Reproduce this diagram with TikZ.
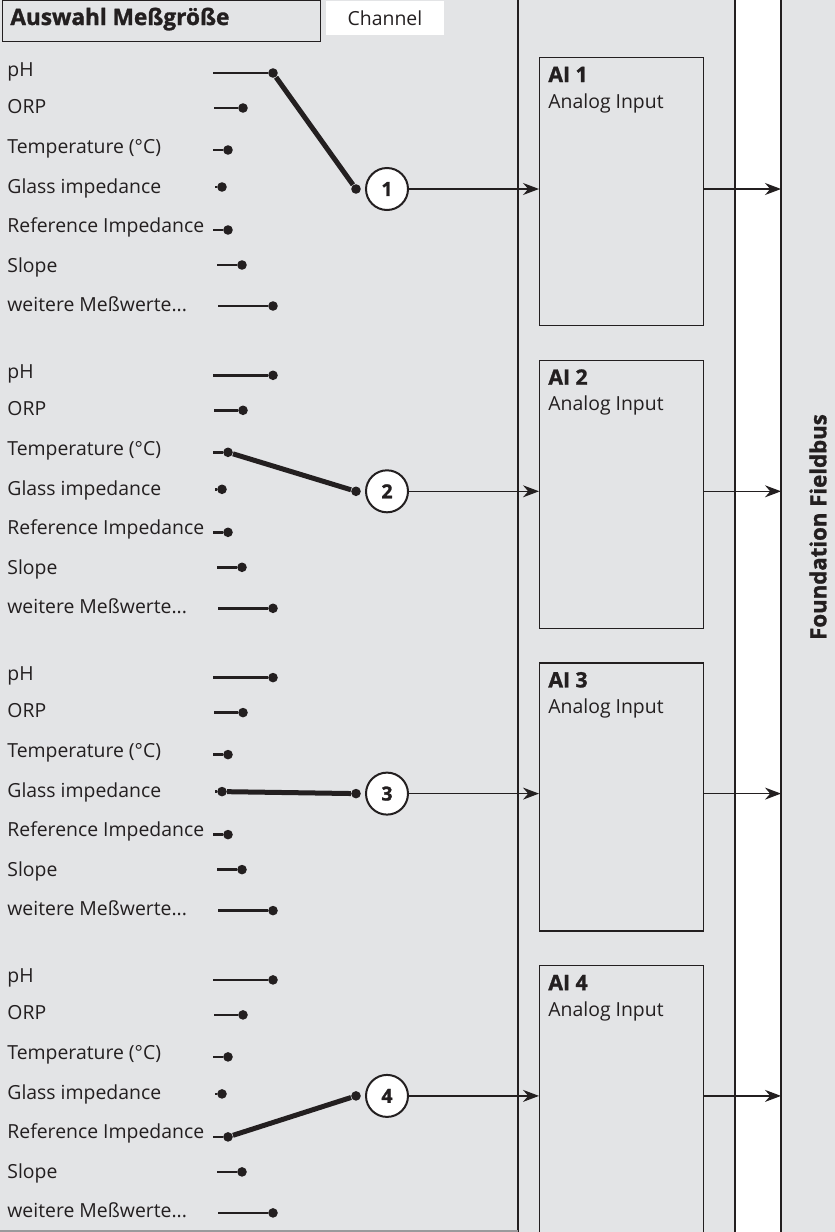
\documentclass[tikz,border=0pt]{standalone}
\usepackage{fontspec}
\setmainfont{Open Sans}
\newfontfamily\heavy{Open Sans}[BoldFeatures={FakeBold=1.3}]
\usetikzlibrary{arrows.meta,positioning}
\definecolor{panelgrey}{HTML}{E3E4E6}
\definecolor{ink}{HTML}{231F20}
\definecolor{rim}{HTML}{9A9A9C}

\begin{document}
\begin{tikzpicture}[x=0.5pt,y=-0.5pt,>={Stealth[length=8pt,width=6pt]},
  txt/.style={anchor=base west,inner sep=0pt,text=ink,font=\fontsize{9.7}{11}\selectfont},
  boldtxt/.style={txt,font=\heavy\bfseries\fontsize{10.6}{12}\selectfont},
  pin/.style={circle,fill=ink,inner sep=0pt,minimum size=4.8pt},
  stub/.style={ink,line width=1.3pt},
  pick/.style={ink,line width=2.5pt},
  chan/.style={circle,draw=ink,fill=white,line width=1pt,minimum size=21pt,inner sep=0pt,text=ink,font=\heavy\bfseries\fontsize{9.7}{11}\selectfont},
  aibox/.style={draw=ink,line width=0.6pt,minimum width=82pt,minimum height=134pt,anchor=north west,inner sep=0pt},
  wire/.style={ink,line width=0.6pt}]

% =====================
% Hintergrund
% =====================
\useasboundingbox (0,0) rectangle (835,1232);
\fill[panelgrey] (0,0) rectangle (835,1232);
\fill[white] (735,0) rectangle (781,1232);
\foreach \x in {518,735,781}
  \draw[wire] (\x,0) -- (\x,1232);
\draw[rim,line width=0.6pt] (0,1231) -- (518,1231);
\coordinate (bus) at (781,0);

% =====================
% Kopf
% =====================
\draw[wire,line width=0.5pt] (2,0) rectangle (320,41);
\node[boldtxt,font=\heavy\bfseries\fontsize{11.3}{13}\selectfont] (head) at (10,25) {Auswahl Meßgröße};
\fill[white] (326,1) rectangle (444,35);
\node[txt,anchor=base] (chantitle) at (385,25) {Channel};

% =====================
% Meßgrößen
% =====================
\foreach \g in {1,...,4} {
  \pgfmathsetmacro\oy{(\g-1)*302.3}
  \foreach \r/\lbl/\by/\sx/\dx/\dy in {
      1/pH/76/213/273/73,
      2/ORP/113/214/243/108,
      3/{Temperature (°C)}/153/213/228/150,
      4/{Glass impedance}/193/215/222/187,
      5/{Reference Impedance}/232/213/228/230,
      6/Slope/272/217/242/265,
      7/{weitere Meßwerte...}/311/218/273/306} {
    \node[txt] (lbl\g\r) at (7,\by+\oy) {\lbl};
    \coordinate (s\g\r) at (\sx,\dy+\oy);
    \node[pin] (pin\g\r) at (\dx,\dy+\oy) {};
    \draw[stub] (s\g\r) -- (pin\g\r);
  }
}

% =====================
% Kanäle und AI-Blöcke
% =====================
\foreach \g/\sel in {1/1,2/3,3/4,4/5} {
  \pgfmathsetmacro\cy{189+(\g-1)*302.3}
  \pgfmathsetmacro\ty{57+(\g-1)*302.7}
  \node[pin] (sw\g) at (356,\cy) {};
  \node[chan] (ch\g) at (387,\cy) {\g};
  \draw[pick] (pin\g\sel) -- (sw\g);
  \node[aibox] (ai\g) at (539,\ty) {};
  \node[boldtxt] (aititle\g) at (548,\ty+25) {AI \g};
  \node[txt] (aisub\g) at (548,\ty+51) {Analog Input};
  \draw[wire,->] (ch\g) -- (ch\g -| ai\g.west);
  \draw[wire,->] (ch\g -| ai\g.east) -- (ch\g -| bus);
}

\node[boldtxt,anchor=center,rotate=90,font=\heavy\bfseries\fontsize{11.1}{13}\selectfont] (fieldbus) at (818,527) {Foundation Fieldbus};

\end{tikzpicture}
\end{document}
